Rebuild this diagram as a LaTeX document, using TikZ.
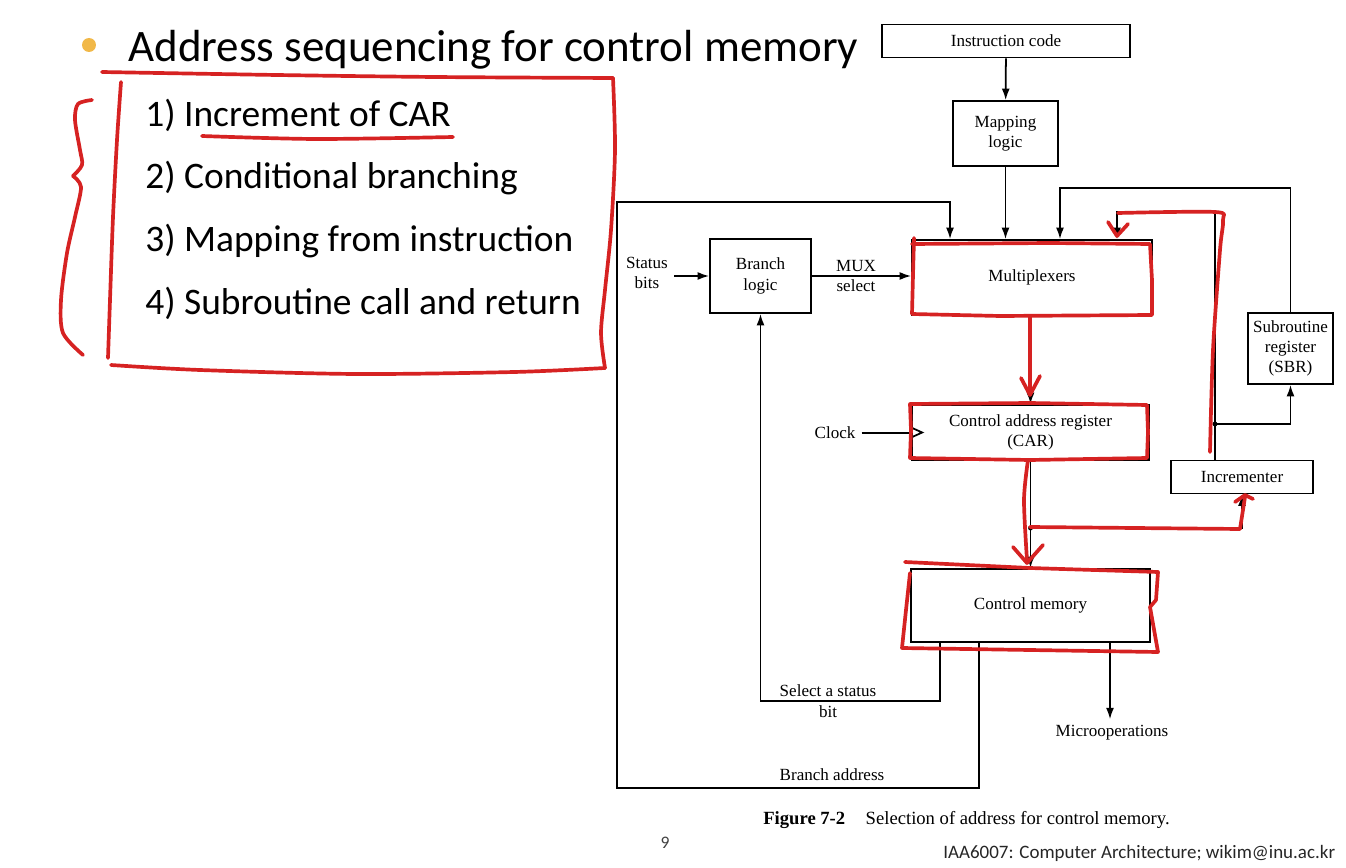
\documentclass[tikz,border=0pt]{standalone}
\usepackage{fontspec}
\setmainfont{Liberation Serif}
\newfontfamily\slidefont{Carlito}
\usepackage{tikz}
\usetikzlibrary{arrows.meta}
\definecolor{penred}{RGB}{214,34,34}
\definecolor{bulletgold}{RGB}{241,184,72}
\newcommand{\diagfont}{\fontsize{9.7}{11.6}\selectfont}

\begin{document}
\begin{tikzpicture}[x=0.02cm, y=-0.02cm, >={Latex[length=2.3mm,width=1.6mm]},
    blk/.style={draw, line width=1pt, inner sep=0pt, align=center, font=\diagfont},
    lbl/.style={align=center, font=\diagfont},
    wire/.style={line width=1pt},
    item/.style={anchor=base west, inner sep=0pt, font=\slidefont\fontsize{21.3}{26}\selectfont},
    pen/.style={penred, line width=2.1pt, line cap=round, line join=round}]
    \useasboundingbox (0,0) rectangle (1346,868);
    % Draw the slide heading and list
    \fill[bulletgold] (89,45) circle (0.14cm);
    \node[anchor=base west, inner sep=0pt, font=\slidefont\fontsize{25.6}{30}\selectfont] (title) at (128,62) {Address sequencing for control memory};
    \node[item] (item1) at (145,127) {1) Increment of CAR};
    \node[item] (item2) at (145,189) {2) Conditional branching};
    \node[item] (item3) at (145,252) {3) Mapping from instruction};
    \node[item] (item4) at (145,315) {4) Subroutine call and return};
    % Draw the blocks
    \node[blk, minimum width=4.96cm, minimum height=0.66cm] (instr) at (1006,41) {Instruction code};
    \node[blk, minimum width=2.1cm, minimum height=1.3cm] (maplog) at (1005.5,133.5) {Mapping\\logic};
    \node[blk, minimum width=4.8cm, minimum height=1.5cm] (mux) at (1032,277.5) {Multiplexers};
    \node[blk, minimum width=2.02cm, minimum height=1.48cm] (brlogic) at (760.5,276) {Branch\\logic};
    \node[blk, minimum width=4.74cm, minimum height=1.1cm] (car) at (1030.5,432.5) {Control address register\\(CAR)};
    \node[blk, minimum width=4.78cm, minimum height=1.46cm] (cmem) at (1030.5,605.5) {Control memory};
    \node[blk, minimum width=2.84cm, minimum height=0.66cm] (incr) at (1242,477) {Incrementer};
    \node[blk, minimum width=1.7cm, minimum height=1.42cm] (sbr) at (1290.5,348.5) {Subroutine\\register\\(SBR)};
    % Labels
    \node[lbl] (status) at (647,273) {Status\\bits};
    \node[lbl] (muxsel) at (856,276) {MUX\\select};
    \node[lbl] (clock) at (835,433) {Clock};
    \node[lbl] (selbit) at (828,701) {Select a status\\bit};
    \node[lbl] (braddr) at (832,775) {Branch address};
    \node[lbl] (microops) at (1112,733) {Microoperations};
    \coordinate (tap) at (1030.5,528);
    \coordinate (incup) at (1117,212);
    \coordinate (sbrup) at (1060,188);
    % Draw the connections
    \draw[wire,->] (instr) -- (maplog);
    \draw[wire,->] (maplog.south) -- (maplog.south |- mux.north);
    \draw[wire,->] (status.east |- brlogic) -- (brlogic.west);
    \draw[wire,->] (brlogic.east) -- (brlogic.east -| mux.west);
    \draw[wire,->] (car.north |- mux.south) -- (car.north);
    \draw[wire] (clock.east) -- (clock.east -| car.west);
    \draw[wire] ([yshift=0.1cm]car.west) -- ([xshift=0.22cm]car.west) -- ([yshift=-0.1cm]car.west);
    \draw[wire,->] (car.south) -- (cmem.north);
    \fill (tap) circle (1.4pt);
    \draw[wire,->] (tap) -| (incr.south);
    \draw[wire,->] ([xshift=-0.54cm]incr.north) |- (incup) -- (incup |- mux.north);
    \fill ([xshift=-0.54cm]incr.north |- 0,424) circle (1.4pt);
    \draw[wire,->] ([xshift=-0.54cm]incr.north |- 0,424) -| (sbr.south);
    \draw[wire,->] (sbr.north) |- (sbrup) -- (sbrup |- mux.north);
    \draw[wire,->] ([xshift=-1.81cm]cmem.south) -- ++(0,58) -| (brlogic.south);
    \draw[wire,->] ([xshift=-1.03cm]cmem.south) -- ++(0,145) -| (617,202) -| ([xshift=-1.64cm]mux.north);
    \draw[wire,->] ([xshift=1.59cm]cmem.south) -- (microops.north -| 1110,0);
    % Caption and footer
    \node[anchor=base west, inner sep=0pt, font=\fontsize{10.6}{13}\selectfont] (caption) at (763,824) {\textbf{Figure 7-2}\hspace{1.1em}Selection of address for control memory.};
    \node[font=\slidefont\fontsize{10}{12}\selectfont, text=black!75] (pagenum) at (665,843) {9};
    \node[anchor=base west, inner sep=0pt, font=\slidefont\fontsize{10.8}{13}\selectfont, text=black!85] (footer) at (943,858) {IAA6007: Computer Architecture; wikim@inu.ac.kr};
    % Red pen marks on the slide
    \draw[pen] plot[smooth] coordinates {(102,72) (277,75) (435,77) (613,78)};
    \draw[pen] plot[smooth] coordinates {(613,78) (615,150) (611,230) (605,290) (601,333) (605,368)};
    \draw[pen] plot[smooth] coordinates {(605,368) (514,372) (356,374) (200,370) (111,365)};
    \draw[pen] plot[smooth] coordinates {(108,358) (110,300) (113,217) (117,140) (121,82)};
    \draw[pen] plot[smooth] coordinates {(92,100) (78,104) (75,120) (80,150) (82,165) (73,176)};
    \draw[pen] plot[smooth] coordinates {(73,176) (81,187) (75,217) (67,253) (61,300) (63,333) (83,355)};
    \draw[pen] plot[smooth] coordinates {(202,136) (316,139) (453,137)};
    \draw[pen] (914,238) -- (913,275) -- (912,314) -- (1000,316) -- (1152,315) -- (1152,280) -- (1150,244) -- (1050,243) -- (912,244);
    \draw[pen] (1030,316) -- (1030,394);
    \draw[pen] (1021,378) -- (1030,395) -- (1040,376);
    \draw[pen] (910,404) -- (1030,403) -- (1147,405) -- (1148,432) -- (1147,458) -- (1030,460) -- (910,458) -- (911,430) -- cycle;
    \draw[pen] plot[smooth] coordinates {(1028,460) (1024,500) (1027,560)};
    \draw[pen] (1013,547) -- (1027,563) -- (1043,545);
    \draw[pen] (1030,527) -- (1240,529) -- (1245,497);
    \draw[pen] (1235,502) -- (1245,495) -- (1253,499);
    \draw[pen] plot[smooth] coordinates {(1210,452) (1213,350) (1220,250) (1223,220) (1215,212) (1118,213)};
    \draw[pen] (1108,222) -- (1117,236) -- (1128,224);
    \draw[pen] (905,562) -- (1030,568) -- (1158,572) -- (1156,600) -- (1150,607) -- (1158,652) -- (1030,650) -- (902,648) -- (906,610) -- (910,573);
\end{tikzpicture}
\end{document}
